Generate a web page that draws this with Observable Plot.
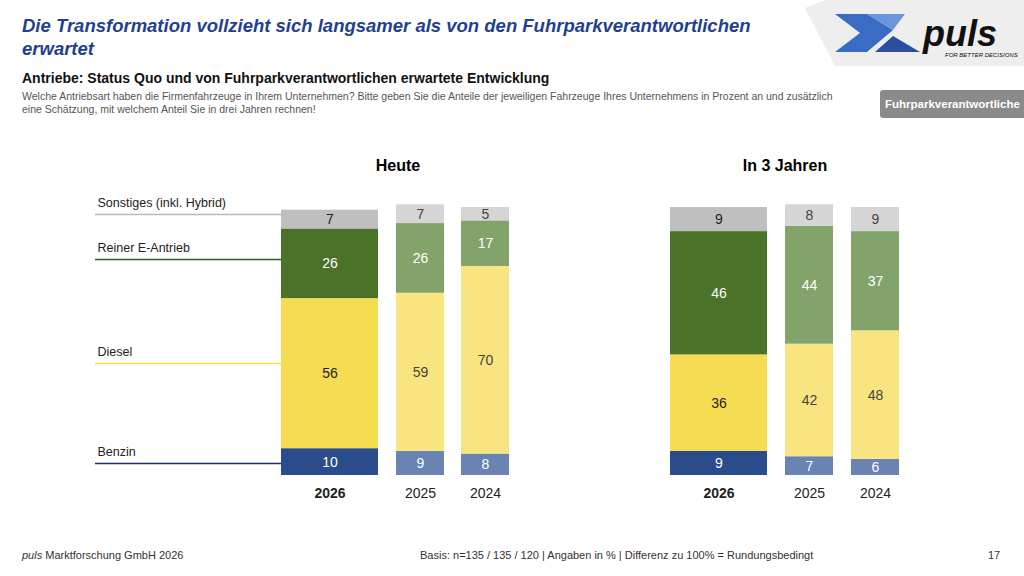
<!DOCTYPE html>
<html><head><meta charset="utf-8">
<script src="https://cdn.jsdelivr.net/npm/d3@7"></script>
<script src="https://cdn.jsdelivr.net/npm/@observablehq/plot@0.6"></script>
<style>
body{margin:0;width:1024px;height:576px;position:relative;font-family:Arial,"Liberation Sans",sans-serif;background:#fff;overflow:hidden}
.abs{position:absolute}
</style></head><body>
<div class="abs" style="left:22px;top:14px;width:780px;font-size:18.5px;font-weight:bold;font-style:italic;color:#1f3f8f;line-height:23px">Die Transformation vollzieht sich langsamer als von den Fuhrparkverantwortlichen erwartet</div>
<div class="abs" style="left:22px;top:70px;font-size:14px;font-weight:bold;color:#111">Antriebe: Status Quo und von Fuhrparkverantwortlichen erwartete Entwicklung</div>
<div class="abs" style="left:22px;top:90px;width:830px;font-size:10.5px;color:#555;line-height:13px">Welche Antriebsart haben die Firmenfahrzeuge in Ihrem Unternehmen? Bitte geben Sie die Anteile der jeweiligen Fahrzeuge Ihres Unternehmens in Prozent an und zusätzlich eine Schätzung, mit welchem Anteil Sie in drei Jahren rechnen!</div>
<div class="abs" style="left:880px;top:90px;width:150px;height:28px;background:#8a8a8a;color:#fff;font-size:11.5px;font-weight:bold;line-height:28px;padding-left:5px;border-radius:3px 0 0 3px">Fuhrparkverantwortliche</div>
<svg class="abs" style="left:805px;top:0" width="219" height="66">
 <polygon points="0,8 20,0 219,0 219,66 30,66" fill="#eee"/>
 <polygon points="30,14 62,14 88,30 62,52 30,52 55,33" fill="#3b6cc4"/>
 <polygon points="62,14 100,14 88,30" fill="#6b95dd"/>
 <polygon points="70,52 88,36 115,52" fill="#2a4fa0"/>
 <text x="118" y="46" font-size="36" font-style="italic" font-weight="bold" fill="#111" font-family="Arial">puls</text>
 <text x="140" y="57" font-size="6" font-style="italic" fill="#111">FOR BETTER DECISIONS</text>
</svg>
<div class="abs" style="left:298px;top:157px;width:200px;text-align:center;font-size:16px;font-weight:bold">Heute</div>
<div class="abs" style="left:685px;top:157px;width:200px;text-align:center;font-size:16px;font-weight:bold">In 3 Jahren</div>
<div class="abs" style="left:22px;top:549px;font-size:11px;color:#333"><i>puls</i> Marktforschung GmbH 2026</div>
<div class="abs" style="left:420px;top:549px;font-size:11px;color:#333">Basis: n=135 / 135 / 120 | Angaben in % | Differenz zu 100% = Rundungsbedingt</div>
<div class="abs" style="left:988px;top:549px;font-size:11px;color:#333">17</div>
<div id="charts"></div>
<script>
const years = ["2026","2025","2024"];
const segments = ["Benzin","Diesel","Reiner E-Antrieb","Sonstiges (inkl. Hybrid)"];
const heute = {"2026":[10,56,26,7],"2025":[9,59,26,7],"2024":[8,70,17,5]};
const in3Jahren = {"2026":[9,36,46,9],"2025":[7,42,44,8],"2024":[6,48,37,9]};
const legendY = [4.5,41.8,80.6,97.4];
const colorsNow = ["#2b4c8c","#f5dc50","#4a7229","#bfbfbf"];
const colorsOld = ["#6a83b3","#f8e57f","#82a36a","#d5d5d5"];
const textNow = ["#fff","#222","#fff","#222"];
const textOld = ["#fff","#444","#fff","#444"];
const legendColors = ["#1f2f6b","#f5dc50","#2f5a1f","#bbb"];

const MT = 27, MB = 30, H = MT + 268 + MB;
const yOpt = {domain:[0,100], axis:null};
const charts = document.getElementById("charts");
function place(el, left){ const d=document.createElement("div"); d.className="abs"; d.style.left=left+"px"; d.style.top="180px"; d.appendChild(el); charts.appendChild(d); }

const leg = segments.map((s,i)=>({s,y:legendY[i],c:legendColors[i]}));
place(Plot.plot({width:186,height:H,marginTop:MT,marginBottom:MB,marginLeft:0,marginRight:0,y:yOpt,x:{domain:[0,1],axis:null},
 style:{fontFamily:"Arial, 'Liberation Sans', sans-serif"},
 marks:[Plot.ruleY(leg,{y:"y",stroke:"c",strokeWidth:1.5}),
  Plot.text(leg,{y:"y",x:0,text:"s",textAnchor:"start",dy:-11,dx:2,fontSize:12.5,fill:"#222"})]}),95);

function bar(data, year, w, left, isNow){
  const rows = segments.map((s,i)=>({year,s,v:data[year][i],i}));
  const fill = isNow?colorsNow:colorsOld, tf = isNow?textNow:textOld;
  place(Plot.plot({width:w,height:H,marginTop:MT,marginBottom:MB,marginLeft:0,marginRight:0,y:yOpt,
   x:{domain:[year],padding:0,label:null,tickSize:0,tickPadding:13},
   style:{fontSize:"14px",fontFamily:"Arial, 'Liberation Sans', sans-serif",fontWeight:isNow?"bold":"normal",color:"#222"},
   marks:[Plot.barY(rows,{x:"year",y:"v",fill:d=>fill[d.i],order:null}),
    Plot.text(rows,Plot.stackY({x:"year",y:"v",text:"v",fill:d=>tf[d.i],fontSize:14,fontWeight:"normal",order:null}))]}), left);
}
const widths=[97,48,48];
[281,396,461].forEach((l,k)=>bar(heute,years[k],widths[k],l,k===0));
[670,785,851].forEach((l,k)=>bar(in3Jahren,years[k],widths[k],l,k===0));
</script>
</body></html>
